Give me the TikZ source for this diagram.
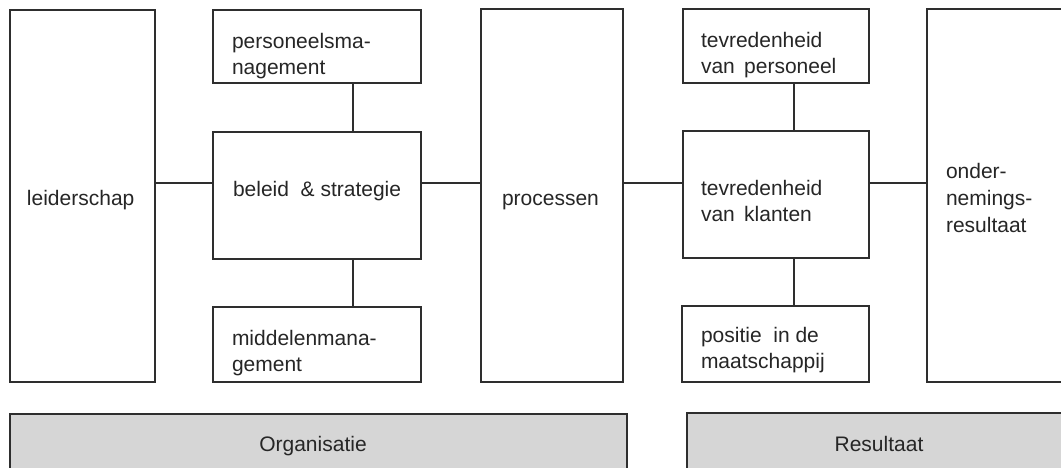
\documentclass[tikz,border=0pt]{standalone}
\usepackage{fontspec}
\setmainfont{Liberation Sans}
\definecolor{linec}{HTML}{2E2E2E}
\definecolor{txtc}{HTML}{262626}
\definecolor{barfill}{HTML}{D6D6D6}
\newcommand{\mylines}[1]{\parbox[t]{200pt}{#1}}
\begin{document}
\begin{tikzpicture}[x=1pt,y=-1pt,
  box/.style={draw=linec, line width=2.4pt, fill=white, anchor=north west,
    inner sep=0pt, outer sep=0pt},
  bar/.style={box, fill=barfill},
  conn/.style={draw=linec, line width=2.4pt},
  lbl/.style={anchor=base west, inner sep=0pt, outer sep=0pt, text=txtc,
    font=\fontsize{21}{26}\selectfont},
  clbl/.style={lbl, anchor=base}]
\useasboundingbox (0,0) rectangle (1061,467);
\clip (0,0) rectangle (1061,467);
\fill[white] (0,0) rectangle (1061,467);
% boxes
\node[box, minimum width=145pt, minimum height=372pt] (lei) at (10,10) {};
\node[box, minimum width=208pt, minimum height=73pt] (pers) at (213,10) {};
\node[box, minimum width=208pt, minimum height=127pt] (bel) at (213,132) {};
\node[box, minimum width=208pt, minimum height=75pt] (mid) at (213,307) {};
\node[box, minimum width=142pt, minimum height=373pt] (proc) at (481,9) {};
\node[box, minimum width=186pt, minimum height=74pt] (tvp) at (683,9) {};
\node[box, minimum width=186pt, minimum height=127pt] (tvk) at (683,131) {};
\node[box, minimum width=187pt, minimum height=76pt] (pos) at (682,306) {};
\node[box, minimum width=145pt, minimum height=373pt] (ond) at (927,9) {};
\node[bar, minimum width=617pt, minimum height=70pt] (org) at (10,414) {};
\node[bar, minimum width=385pt, minimum height=70pt] (res) at (687,413) {};
% connectors
\coordinate (hy) at (0,183);
\coordinate (vxa) at (353,0);
\coordinate (vxb) at (794,0);
\draw[conn] (lei.east |- hy) -- (bel.west |- hy);
\draw[conn] (bel.east |- hy) -- (proc.west |- hy);
\draw[conn] (proc.east |- hy) -- (tvk.west |- hy);
\draw[conn] (tvk.east |- hy) -- (ond.west |- hy);
\draw[conn] (pers.south -| vxa) -- (bel.north -| vxa);
\draw[conn] (bel.south -| vxa) -- (mid.north -| vxa);
\draw[conn] (tvp.south -| vxb) -- (tvk.north -| vxb);
\draw[conn] (tvk.south -| vxb) -- (pos.north -| vxb);
% labels
\node[lbl] (tlei) at (27,205) {leiderschap};
\node[lbl] (tpers) at (232,48) {\mylines{personeelsma-\\nagement}};
\node[lbl] (tbel) at (233,196) {beleid\ \ \&\ strategie};
\node[lbl] (tmid) at (232,345) {\mylines{middelenmana-\\gement}};
\node[lbl] (tproc) at (502,205) {processen};
\node[lbl] (ttvp) at (701,47) {\mylines{tevredenheid\\van\ \,personeel}};
\node[lbl] (ttvk) at (701,195) {\mylines{tevredenheid\\van\ \,klanten}};
\node[lbl] (tpos) at (701,342) {\mylines{positie\ \ in de\\maatschappij}};
\node[lbl] (tond) at (946,178) {\parbox[t]{200pt}{\fontsize{21}{27}\selectfont onder-\\nemings-\\resultaat}};
\node[clbl] (torg) at (313,451) {Organisatie};
\node[clbl] (tres) at (879,451) {Resultaat};
\end{tikzpicture}
\end{document}
